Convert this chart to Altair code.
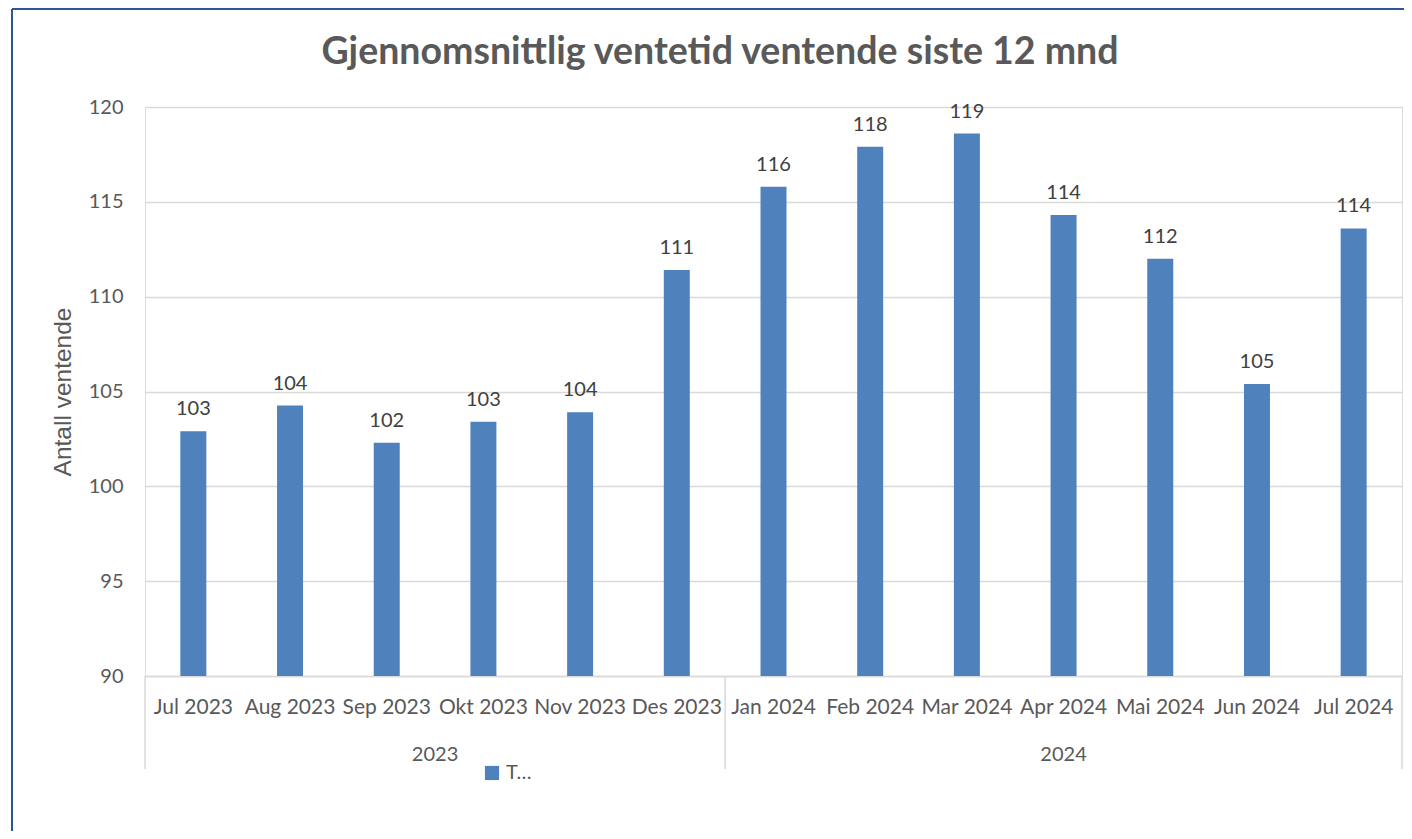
import altair as alt
import pandas as pd

months = ["Jul 2023", "Aug 2023", "Sep 2023", "Okt 2023", "Nov 2023", "Des 2023",
          "Jan 2024", "Feb 2024", "Mar 2024", "Apr 2024", "Mai 2024", "Jun 2024", "Jul 2024"]
values = [102.9, 104.26, 102.3, 103.4, 103.9, 111.4, 115.8, 117.9, 118.6, 114.3, 112.0, 105.4, 113.6]
series_name = "T…"
title_text = "Gjennomsnittlig ventetid ventende siste 12 mnd"

years = ["2023", "2024"]
year_counts = [6, 7]

W, H = 1257, 569
FONT = "Lato"
GREY = "#595959"

df = pd.DataFrame({"month": months, "value": values, "series": series_name})
df["label"] = [str(int(round(v))) for v in values]

# year group positions (in month-index units)
starts = [sum(year_counts[:i]) for i in range(len(year_counts))]
year_df = pd.DataFrame({
    "year": years,
    "center": [s + c / 2 for s, c in zip(starts, year_counts)],
})
sep_df = pd.DataFrame({"pos": starts + [sum(year_counts)]})

xband = alt.X("month:N", sort=months, title=None,
              scale=alt.Scale(paddingInner=0, paddingOuter=0),
              axis=alt.Axis(labelAngle=0, labelFontSize=21, labelColor=GREY,
                            labelFont=FONT, labelPadding=20, ticks=False,
                            domainColor="#d9d9d9", domainWidth=1.5, grid=False))
yq = alt.Y("value:Q", title="Antall ventende",
           scale=alt.Scale(domain=[90, 120], zero=False, nice=False),
           axis=alt.Axis(values=[90, 95, 100, 105, 110, 115, 120], labelFontSize=20,
                         labelColor=GREY, labelFont=FONT, labelPadding=22,
                         ticks=False, domain=False, gridColor="#d9d9d9", gridWidth=1.5,
                         titleFont="Liberation Sans", titleFontSize=24.5,
                         titleFontWeight="normal", titleColor=GREY, titlePadding=13))

bars = alt.Chart(df).mark_bar(size=26).encode(
    x=xband,
    y=yq,
    y2=alt.datum(90),
    color=alt.Color("series:N", scale=alt.Scale(range=["#4f81bd"]),
                    legend=alt.Legend(title=None, orient="none", legendX=337, legendY=656,
                                      symbolType="square", symbolSize=200,
                                      labelFontSize=20, labelColor=GREY, labelFont=FONT,
                                      symbolStrokeWidth=0)),
)

labels = alt.Chart(df).mark_text(baseline="bottom", dy=-12, fontSize=20, font=FONT,
                                  color="#404040").encode(
    x=alt.X("month:N", sort=months, axis=None,
            scale=alt.Scale(paddingInner=0, paddingOuter=0)),
    y=alt.Y("value:Q"),
    text="label:N",
)

lin = alt.Scale(domain=[0, sum(year_counts)], nice=False, zero=False)

seps = alt.Chart(sep_df).mark_rule(color="#d9d9d9", strokeWidth=1.5).encode(
    x=alt.X("pos:Q", scale=lin, axis=None),
    y=alt.value(H),
    y2=alt.value(H + 93),
)

year_text = alt.Chart(year_df).mark_text(fontSize=20, font=FONT, color=GREY,
                                         baseline="middle").encode(
    x=alt.X("center:Q", scale=lin, axis=None),
    y=alt.value(H + 79),
    text="year:N",
)

title = alt.Chart(pd.DataFrame({"t": [title_text]})).mark_text(
    fontSize=37.5, font=FONT, fontWeight="bold", color=GREY, baseline="middle", align="center"
).encode(x=alt.value(575), y=alt.value(-54), text="t:N")

border = alt.Chart(pd.DataFrame({"k": [0]})).mark_rule(color="#2f5597", strokeWidth=2).encode(
    x=alt.value(-133), x2=alt.value(-133), y=alt.value(-98), y2=alt.value(H + 300))
border_top = alt.Chart(pd.DataFrame({"k": [0]})).mark_rule(color="#2f5597", strokeWidth=2).encode(
    x=alt.value(-133), x2=alt.value(W + 300), y=alt.value(-98), y2=alt.value(-98))

chart = alt.layer(bars, labels, seps, year_text, title, border, border_top).resolve_scale(
    x="independent"
).properties(
    width=W, height=H,
    autosize=alt.AutoSizeParams(type="none"),
    padding={"left": 137, "top": 99, "right": 2, "bottom": 155},
).configure_view(stroke=None).configure(background="white")

chart.save("out.html", embed_options={"renderer": "svg", "actions": False})
